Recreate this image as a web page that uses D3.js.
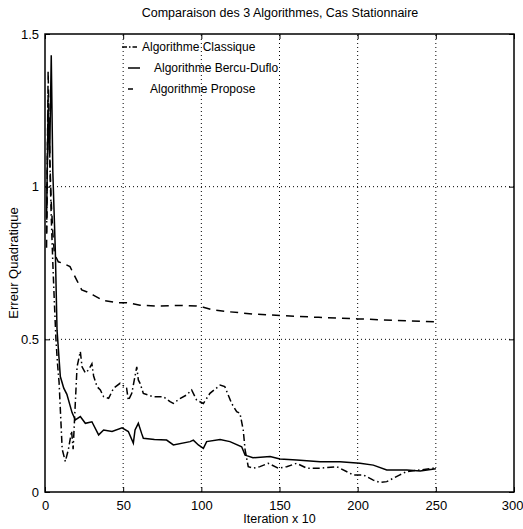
<!DOCTYPE html>
<html>
<head>
<meta charset="utf-8">
<script src="https://cdn.jsdelivr.net/npm/d3@7"></script>
<style>
  body { margin: 0; background: #fff; }
  text { font-family: "Liberation Sans", Arial, sans-serif; fill: #000; }
</style>
</head>
<body>
<svg id="chart"></svg>
<script>
// iterations (x10) and squared error
var iterClassique = [1,2,3,4,5,6,7,8,9,10,11,13,15,17,18,19,20.5,22.6,23.7,25.8,27.9,30,31.1,33.3,35.4,37.5,40.7,43.9,48,52.2,53.3,55.5,58.7,59.7,60.8,62.9,69.3,75.7,80,82.1,86,90.6,93.8,97,101.3,105.5,112,115,119.4,122.6,124.7,126.8,128,130,133.2,137.5,142.8,149.2,154.6,161,167.4,176,186.6,197.2,203.6,210,214.3,218.6,227,231.4,240,248.4,250]
var errClassique = [0.85,1.3,1.1,0.9,0.75,0.62,0.5,0.42,0.36,0.25,0.14,0.10,0.14,0.20,0.14,0.25,0.41,0.46,0.41,0.39,0.40,0.42,0.38,0.345,0.334,0.312,0.307,0.34,0.356,0.34,0.30,0.323,0.41,0.367,0.356,0.323,0.312,0.312,0.296,0.29,0.305,0.318,0.334,0.301,0.29,0.323,0.35,0.345,0.29,0.263,0.258,0.203,0.138,0.083,0.078,0.083,0.094,0.078,0.083,0.094,0.078,0.078,0.083,0.056,0.056,0.039,0.031,0.034,0.056,0.067,0.072,0.078,0.075]

var iterBercu = [1,2,3,4,5,6,8.5,12,16,20.3,23.5,27,30.9,37.3,45.9,52.3,60.8,71.5,86.4,97,101.3,107.7,118.3,133,150.3,175,200,225,250]
var errBercu = [0.8,1.38,1.1,0.95,0.85,0.78,0.754,0.748,0.738,0.694,0.662,0.655,0.645,0.627,0.62,0.62,0.612,0.609,0.611,0.609,0.605,0.596,0.59,0.583,0.578,0.572,0.567,0.562,0.557]

var iterPropose = [1,2,3,4,5,6.6,7.7,9.8,12,14,17.3,19.4,22.6,25.8,30,34.3,37.5,42.9,49.3,53.3,56.5,57.6,59.7,61.8,62.9,70,77.8,82.1,92.8,94.9,98.1,101.3,103.4,112,118.3,125.8,128,129,133,144,150.3,161,176,188.7,201.5,210,218.6,231.4,240,250]
var errPropose = [0.9,1.25,1.1,1.43,1.05,0.79,0.53,0.378,0.34,0.32,0.26,0.236,0.247,0.225,0.23,0.187,0.203,0.198,0.21,0.198,0.16,0.203,0.225,0.192,0.176,0.172,0.170,0.154,0.165,0.17,0.154,0.143,0.165,0.172,0.165,0.148,0.121,0.119,0.112,0.116,0.108,0.105,0.099,0.099,0.094,0.088,0.072,0.072,0.069,0.076]

var xTicks = [0,50,100,150,200,250,300]
var yTicks = [0,0.5,1,1.5]
var legendLabels = ["Algorithme Classique","Algorithme Bercu-Duflo","Algorithme Propose"]

var dimensions = {
    width: 523,
    height: 529,
    margin: { top: 34, bottom: 37, right: 9, left: 45 }
}

var svg = d3.select("#chart")
    .attr("width", dimensions.width)
    .attr("height", dimensions.height)

var x0 = dimensions.margin.left, x1 = dimensions.width - dimensions.margin.right
var y0 = dimensions.height - dimensions.margin.bottom, y1 = dimensions.margin.top

var xScale = d3.scaleLinear().domain([0, 300]).range([x0, x1])
var yScale = d3.scaleLinear().domain([0, 1.5]).range([y0, y1])

// dotted grid
svg.append("g").selectAll("line")
    .data(xTicks.slice(1, -1))
    .enter().append("line")
    .attr("x1", d => xScale(d)).attr("x2", d => xScale(d))
    .attr("y1", y0).attr("y2", y1)
    .attr("stroke", "#000").attr("stroke-width", 1)
    .attr("stroke-dasharray", "1,3")
svg.append("g").selectAll("line")
    .data(yTicks.slice(1, -1))
    .enter().append("line")
    .attr("y1", d => yScale(d)).attr("y2", d => yScale(d))
    .attr("x1", x0).attr("x2", x1)
    .attr("stroke", "#000").attr("stroke-width", 1)
    .attr("stroke-dasharray", "1,3")

// axes, ticks pointing inward on all four sides
var xAxisgen = d3.axisBottom(xScale).tickValues(xTicks).tickSizeInner(-5).tickSizeOuter(0).tickPadding(9).tickFormat(d3.format("d"))
var yAxisgen = d3.axisLeft(yScale).tickValues(yTicks).tickSizeInner(-5).tickSizeOuter(0).tickPadding(6).tickFormat(d => d)

var xAxis = svg.append("g").attr("transform", `translate(0,${y0})`).call(xAxisgen)
var yAxis = svg.append("g").attr("transform", `translate(${x0},0)`).call(yAxisgen)
svg.append("g").attr("transform", `translate(0,${y1})`)
    .call(d3.axisTop(xScale).tickValues(xTicks).tickSizeInner(-5).tickSizeOuter(0).tickFormat(""))
svg.append("g").attr("transform", `translate(${x1},0)`)
    .call(d3.axisRight(yScale).tickValues(yTicks).tickSizeInner(-5).tickSizeOuter(0).tickFormat(""))

svg.selectAll(".domain").remove()
svg.selectAll(".tick line").attr("stroke", "#000").attr("stroke-width", 1)
xAxis.selectAll("text").style("font-size", "13px")
// last label sits against the page edge
xAxis.selectAll("text").filter(d => d == 300).attr("text-anchor", "end").attr("x", 9)
yAxis.selectAll("text").style("font-size", "13px")

svg.append("rect")
    .attr("x", x0).attr("y", y1)
    .attr("width", x1 - x0).attr("height", y0 - y1)
    .attr("fill", "none").attr("stroke", "#000").attr("stroke-width", 1.5)

// curves
var series = [
    { x: iterClassique, y: errClassique, dash: "7,3,1.5,3" },
    { x: iterBercu, y: errBercu, dash: "8,6" },
    { x: iterPropose, y: errPropose, dash: null }
]

var line = d3.line().x(d => xScale(d[0])).y(d => yScale(d[1]))

series.forEach(function (s) {
    svg.append("path")
        .datum(d3.zip(s.x, s.y))
        .attr("d", line)
        .attr("fill", "none")
        .attr("stroke", "#000")
        .attr("stroke-width", 1.5)
        .attr("stroke-dasharray", s.dash)
})

// legend
var legendY = [47, 68, 89]
var legendLine = [[122, 137, "5,2,1.5,2"], [128, 140, "12,0"], [128, 133, null]]
var legend = svg.append("g")
legendLabels.forEach(function (t, i) {
    legend.append("line")
        .attr("x1", legendLine[i][0]).attr("x2", legendLine[i][1])
        .attr("y1", legendY[i]).attr("y2", legendY[i])
        .attr("stroke", "#000").attr("stroke-width", 1.5)
        .attr("stroke-dasharray", legendLine[i][2])
    legend.append("text")
        .attr("x", i == 0 ? 142 : (i == 1 ? 154 : 150)).attr("y", legendY[i] + 4)
        .style("font-size", "12px")
        .text(t)
})

// labels
svg.append("text")
    .attr("x", 280).attr("y", 17)
    .attr("text-anchor", "middle")
    .style("font-size", "12.5px")
    .text("Comparaison des 3 Algorithmes, Cas Stationnaire")

svg.append("text")
    .attr("x", (x0 + x1) / 2).attr("y", 523)
    .attr("text-anchor", "middle")
    .style("font-size", "12.5px")
    .text("Iteration x 10")

svg.append("text")
    .attr("transform", "translate(18," + (y0 + y1) / 2 + ") rotate(-90)")
    .attr("text-anchor", "middle")
    .style("font-size", "13px")
    .text("Erreur Quadratique")
</script>
</body>
</html>
